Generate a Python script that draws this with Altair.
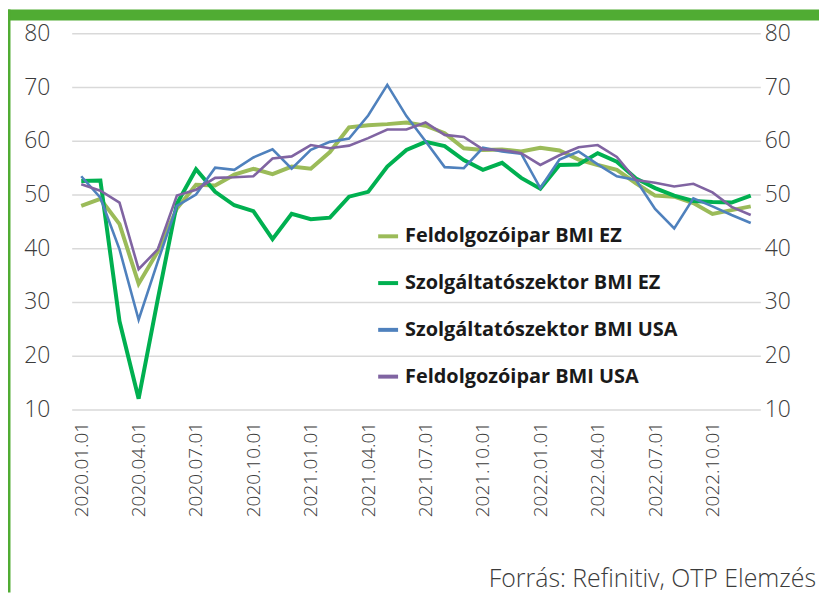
import altair as alt
import pandas as pd

# ---- data -------------------------------------------------------------
months = [f"{y}.{m:02d}.01" for y in (2020, 2021, 2022) for m in range(1, 13)]

ez_manuf = [47.9, 49.2, 44.5, 33.4, 39.4, 47.4, 51.8, 51.7, 53.7, 54.8, 53.8, 55.2,
            54.8, 57.9, 62.5, 62.9, 63.1, 63.4, 62.8, 61.4, 58.6, 58.3, 58.4, 58.0,
            58.7, 58.2, 56.5, 55.5, 54.6, 52.1, 49.8, 49.6, 48.4, 46.4, 47.1, 47.8]
ez_serv = [52.5, 52.6, 26.4, 12.0, 30.5, 48.3, 54.7, 50.5, 48.0, 46.9, 41.7, 46.4,
           45.4, 45.7, 49.6, 50.5, 55.2, 58.3, 59.8, 59.0, 56.4, 54.6, 55.9, 53.1,
           51.1, 55.5, 55.6, 57.7, 56.1, 53.0, 51.2, 49.8, 48.8, 48.6, 48.5, 49.8]
us_serv = [53.4, 49.4, 39.8, 26.7, 37.5, 47.9, 50.0, 55.0, 54.6, 56.9, 58.4, 54.8,
           58.3, 59.8, 60.4, 64.7, 70.4, 64.6, 59.9, 55.1, 54.9, 58.7, 58.0, 57.6,
           51.2, 56.5, 58.0, 55.6, 53.4, 52.7, 47.3, 43.7, 49.3, 47.8, 46.2, 44.7]
us_manuf = [51.9, 50.7, 48.5, 36.1, 39.8, 49.8, 50.9, 53.1, 53.2, 53.4, 56.7, 57.1,
            59.2, 58.6, 59.1, 60.5, 62.1, 62.1, 63.4, 61.1, 60.7, 58.4, 58.3, 57.7,
            55.5, 57.3, 58.8, 59.2, 57.0, 52.7, 52.2, 51.5, 52.0, 50.4, 47.7, 46.2]

names = ["Feldolgozóipar BMI EZ", "Szolgáltatószektor BMI EZ",
         "Szolgáltatószektor BMI USA", "Feldolgozóipar BMI USA"]
colors = ["#9BBB59", "#00B050", "#4F81BD", "#8064A2"]
y_ticks = [10, 20, 30, 40, 50, 60, 70, 80]
source = "Forrás: Refinitiv, OTP Elemzés"

rows = []
for name, vals in zip(names, [ez_manuf, ez_serv, us_serv, us_manuf]):
    for m, v in zip(months, vals):
        rows.append({"date": m, "series": name, "value": v})
df = pd.DataFrame(rows)
df_ez = df[df["series"].isin(names[:2])]
df_us = df[df["series"].isin(names[2:])]

# ---- layout -----------------------------------------------------------
W, H = 692, 378
PAD = {"left": 64, "top": 24, "right": 59, "bottom": 184}
FONT = "Open Sans"
TXT = "#3b3b3b"
FRAME = "#50AC33"

color = alt.Color(
    "series:N",
    scale=alt.Scale(domain=names, range=colors),
    legend=alt.Legend(
        orient="none", legendX=306, legendY=192, title=None,
        symbolType="stroke", symbolSize=400, symbolStrokeWidth=4,
        labelFontSize=20, labelFontWeight="bold", labelFont=FONT,
        labelColor="#1a1a1a", labelOffset=5, rowPadding=25, labelLimit=400,
    ),
)

x_axis = alt.Axis(values=months[::3], labelAngle=-90, labelFontSize=19,
                  labelFont=FONT, labelFontWeight=300, labelColor=TXT,
                  domain=False, ticks=False, grid=False, labelPadding=12)
x_enc = alt.X("date:O", sort=months, title=None, axis=x_axis)

y_scale = alt.Scale(domain=[10, 80], nice=False, zero=False)

ez = alt.Chart(df_ez).mark_line(strokeWidth=4).encode(
    x=x_enc,
    y=alt.Y("value:Q", scale=y_scale, title=None,
            axis=alt.Axis(orient="left", values=y_ticks, grid=True,
                          gridColor="#D9D9D9", gridWidth=1.5, domain=False,
                          ticks=False, labelPadding=22, labelFontSize=23,
                          labelFont=FONT, labelFontWeight=300, labelColor=TXT)),
    color=color,
)

us = alt.Chart(df_us).mark_line(strokeWidth=2.6).encode(
    x=x_enc,
    y=alt.Y("value:Q", scale=y_scale, title=None,
            axis=alt.Axis(orient="right", values=y_ticks, grid=False,
                          domain=False, ticks=False, labelPadding=4,
                          labelFontSize=23, labelFont=FONT,
                          labelFontWeight=300, labelColor=TXT)),
    color=color,
)

one = alt.Data(values=[{"t": source}])

top_band = alt.Chart(one).mark_rect(color=FRAME).encode(
    x=alt.value(-PAD["left"]), x2=alt.value(W + PAD["right"]),
    y=alt.value(-PAD["top"]), y2=alt.value(-PAD["top"] + 11),
)
left_line = alt.Chart(one).mark_rect(color=FRAME).encode(
    x=alt.value(-PAD["left"]), x2=alt.value(-PAD["left"] + 2.5),
    y=alt.value(-PAD["top"]), y2=alt.value(H + PAD["bottom"]),
)
src = alt.Chart(one).mark_text(
    align="right", baseline="alphabetic", fontSize=25, font=FONT,
    fontWeight=300, color=TXT,
).encode(x=alt.value(W + PAD["right"] - 3), y=alt.value(H + PAD["bottom"] - 6),
         text="t:N")

chart = (
    alt.layer(ez, us, top_band, left_line, src)
    .resolve_axis(y="independent")
    .properties(width=W, height=H, padding=PAD,
                autosize=alt.AutoSizeParams(type="none"))
    .configure_view(strokeOpacity=0, strokeWidth=0, fill="white")
    .configure_axis(domain=False, ticks=False)
)

chart.save("out.html", embed_options={"renderer": "svg", "actions": False})
